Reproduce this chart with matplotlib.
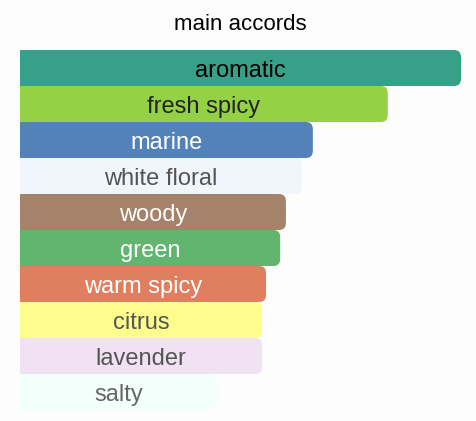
import matplotlib.pyplot as plt
from matplotlib.patches import FancyBboxPatch

# accords, top to bottom
accords = ["aromatic", "fresh spicy", "marine", "white floral", "woody",
           "green", "warm spicy", "citrus", "lavender", "salty"]
strength = [100, 83.4, 66.4, 63.9, 60.3, 59.0, 55.8, 54.9, 54.9, 44.7]
bar_colors = ["#37a089", "#94d144", "#5282b8", "#f1f5fc", "#a5826a",
              "#62b56e", "#e07f60", "#fdfd8e", "#f0e2f2", "#f3fffa"]
text_colors = ["#000000", "#222222", "#ffffff", "#555555", "#ffffff",
               "#ffffff", "#ffffff", "#555555", "#555555", "#666666"]

W, H = 477, 421
fig = plt.figure(figsize=(W / 100, H / 100), dpi=100, facecolor="#fdfdfd")
ax = fig.add_axes([20 / W, (H - 410) / H, 441 / W, 360 / H])
ax.set_facecolor("#fdfdfd")

n = len(accords)
ypos = list(range(n))
bars = ax.barh(ypos, strength, height=1.0, color=bar_colors)
ax.set_xlim(0, 100)
ax.set_ylim(n - 0.5, -0.5)

# x units per pixel and y units per pixel, for rounding only the right corners
xpp = 100 / 441
ypp = n / 360
r = 7 * xpp
for b, c in zip(bars, bar_colors):
    x0, y0 = b.get_x(), b.get_y()
    w, h = b.get_width(), b.get_height()
    b.set_visible(False)
    ax.add_patch(FancyBboxPatch((x0 - 3 * r, y0), w + 3 * r, h,
                                boxstyle=f"round,pad=0,rounding_size={r}",
                                mutation_aspect=ypp / xpp,
                                facecolor=c, edgecolor="none"))

for y, lab, v, tc in zip(ypos, accords, strength, text_colors):
    ax.text(v / 2, y + 0.08, lab, ha="center", va="center", color=tc,
            fontsize=17, family="Liberation Sans")

ax.axis("off")
fig.text(240 / W, 1 - 24 / H, "main accords", ha="center", va="center",
         fontsize=16, family="Liberation Sans", color="#000000")

fig.savefig("out.png", dpi=100, facecolor=fig.get_facecolor())
